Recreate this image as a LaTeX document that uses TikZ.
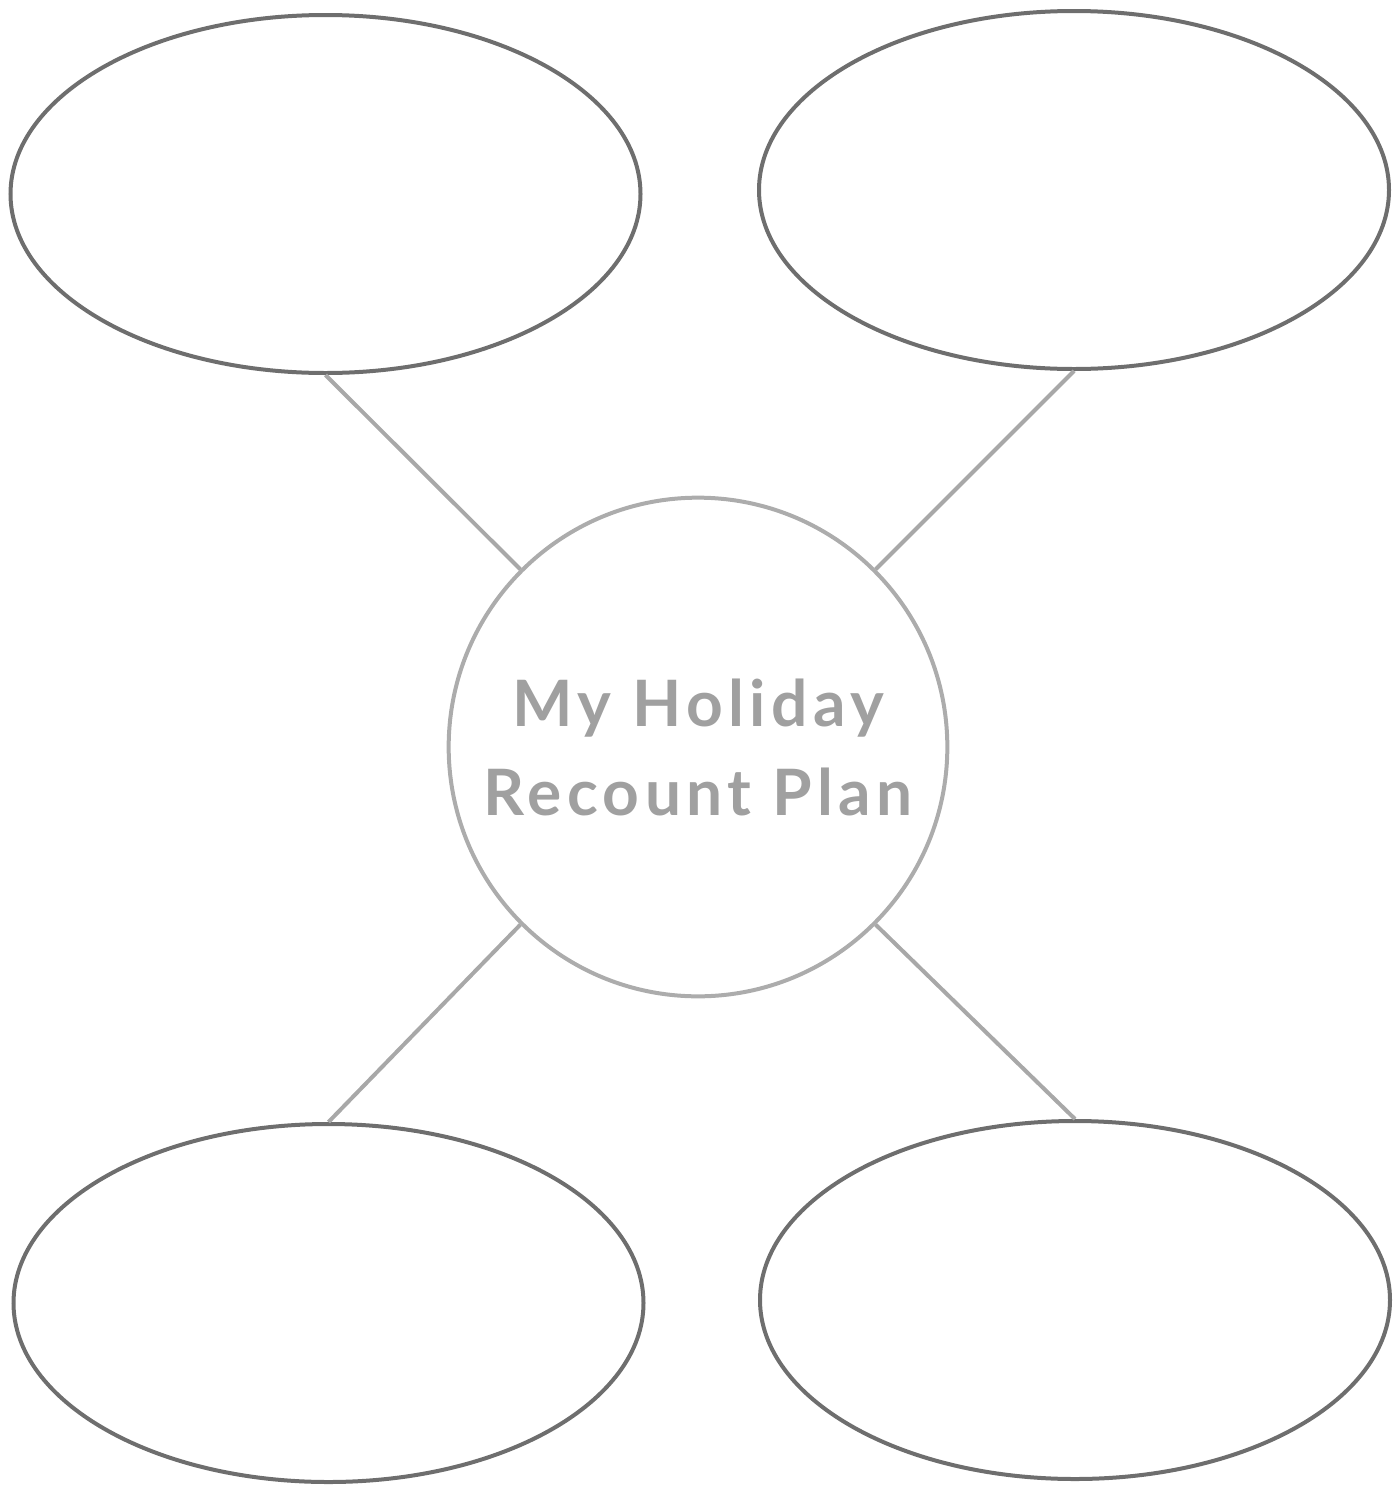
\documentclass[tikz,border=0pt]{standalone}
\usepackage{fontspec}
\setmainfont{Lato}
\newfontfamily\hubfont[LetterSpace=8.5]{Lato}
\usetikzlibrary{shapes.geometric}

\tikzset{every picture/.style={line width=0.75pt}}
\tikzset{
  bubble/.style={draw={rgb, 255:red, 110; green, 110; blue, 110 }, line width=3pt, ellipse, inner sep=0pt, minimum width=472.5pt, minimum height=268.5pt},
  hubcircle/.style={draw={rgb, 255:red, 172; green, 172; blue, 172 }, line width=3pt, circle, inner sep=0pt, minimum size=374pt, align=center},
  spoke/.style={color={rgb, 255:red, 168; green, 168; blue, 168 }, line width=3pt}
}

\begin{document}
\begin{tikzpicture}[x=0.75pt,y=0.75pt,yscale=-1,xscale=1]
\useasboundingbox (0,0) rectangle (1399,1489);

%Shape: Ellipse [top left]
\node [bubble] (tl) at (325.5,194) {};
%Shape: Ellipse [top right]
\node [bubble] (tr) at (1074,190) {};
%Shape: Ellipse [bottom left]
\node [bubble] (bl) at (328.5,1303) {};
%Shape: Ellipse [bottom right]
\node [bubble] (br) at (1075,1300) {};

%Shape: Circle
\node [hubcircle, font=\hubfont\fontsize{48}{66.75}\selectfont\bfseries, text={rgb, 255:red, 160; green, 160; blue, 160 }] (hub) at (698,747) {My Holiday\\Recount Plan};

%Straight Lines
\draw [spoke] (tl.south) -- (hub.135) ;
\draw [spoke] (tr.south) -- (hub.45) ;
\draw [spoke] (bl.north) -- (hub.-135) ;
\draw [spoke] (br.north) -- (hub.-45) ;

\end{tikzpicture}
\end{document}
